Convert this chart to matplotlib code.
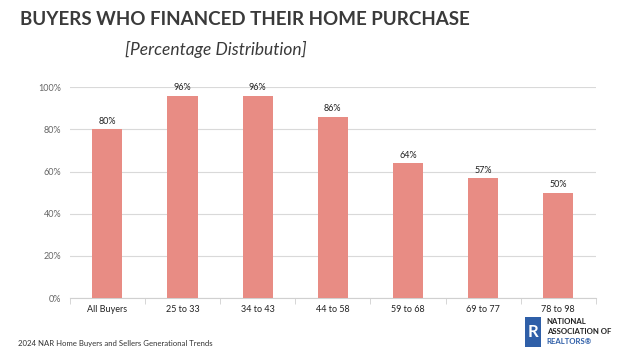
import numpy as np
import matplotlib.pyplot as plt
from matplotlib.patches import Rectangle
from matplotlib.ticker import FuncFormatter, FixedLocator

categories=['All Buyers','25 to 33','34 to 43','44 to 58','59 to 68','69 to 77','78 to 98']
values=[80,96,96,86,64,57,50]

bar_color='#E88C84'
text_color='#3a3a3a'

plt.rcParams['font.family']=['Lato','DejaVu Sans']

fig=plt.figure(figsize=(6.4,3.6),dpi=100)
ax=fig.add_axes([0.109,0.172,0.822,0.586])

x=np.arange(len(categories))
ax.bar(x,values,width=0.4,color=bar_color,zorder=3)

#value labels
for xi,v in zip(x,values):
    ax.text(xi,v+1.5,str(v)+'%',ha='center',va='bottom',fontsize=6.5,color='#222222')

ax.set_ylim(0,100)
ax.set_xlim(-0.5,len(categories)-0.5)
ax.set_yticks(np.arange(0,101,20))
ax.yaxis.set_major_formatter(FuncFormatter(lambda v,p:'%d%%'%v))
ax.set_xticks(x)
ax.set_xticklabels(categories)
ax.xaxis.set_minor_locator(FixedLocator(np.arange(-0.5,len(categories),1)))

ax.grid(axis='y',color='#d9d9d9',linewidth=0.8,zorder=0)
for s in ['top','right','left']:
    ax.spines[s].set_visible(False)
ax.spines['bottom'].set_color('#d0d0d0')
ax.tick_params(axis='y',length=0,labelsize=6.5,labelcolor='#666666',pad=6)
ax.tick_params(axis='x',which='major',length=0,labelsize=6.5,labelcolor='#222222',pad=5)
ax.tick_params(axis='x',which='minor',length=4,color='#d0d0d0')

#title
fig.text(0.031,0.945,'BUYERS WHO FINANCED THEIR HOME PURCHASE',fontsize=13.5,
         fontweight='bold',color=text_color,va='center',ha='left')
fig.text(0.195,0.862,'[Percentage Distribution]',fontsize=12.5,style='italic',
         color=text_color,va='center',ha='left')

#footer
fig.text(0.028,0.045,'2024 NAR Home Buyers and Sellers Generational Trends',fontsize=5.6,
         color='#333333',va='center',ha='left')

#logo
fig.patches.append(Rectangle((0.82,0.035),0.026,0.085,transform=fig.transFigure,
                             facecolor='#2f5fa8',edgecolor='none'))
fig.text(0.833,0.077,'R',fontsize=12,fontweight='bold',color='white',
         ha='center',va='center')
fig.text(0.854,0.108,'NATIONAL',fontsize=5.6,fontweight='bold',color='#222222',va='center')
fig.text(0.854,0.079,'ASSOCIATION OF',fontsize=5.6,fontweight='bold',color='#222222',va='center')
fig.text(0.854,0.050,'REALTORS\u00ae',fontsize=5.6,fontweight='bold',color='#2f5fa8',va='center')

plt.savefig('out.png',dpi=100)
plt.close()
